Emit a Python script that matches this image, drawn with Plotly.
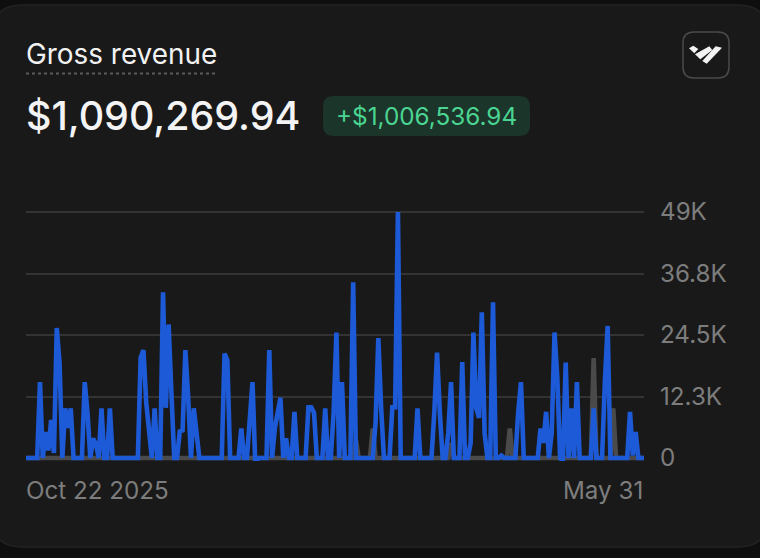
import pandas as pd
import plotly.graph_objects as go

start_date = "2025-10-22"
end_label = "May 31"
start_label = "Oct 22 2025"
title = "Gross revenue"
total = "$1,090,269.94"
delta = "+$1,006,536.94"
y_ticks = [0, 12250, 24500, 36750, 49000]
y_labels = ["0", "12.3K", "24.5K", "36.8K", "49K"]

current = [
    0, 0, 0, 0, 0, 15100, 0, 5200, 1500, 7600,
    1000, 25900, 18900, 0, 9900, 6000, 9900, 0, 0, 0,
    0, 15100, 9000, 0, 3900, 2800, 0, 9900, 0, 0,
    9900, 0, 0, 0, 0, 0, 0, 0, 0, 0,
    0, 20000, 21500, 11000, 5000, 0, 9900, 0, 0, 33000,
    10000, 26600, 13000, 0, 0, 5300, 5500, 21500, 12000, 0,
    9900, 4500, 0, 0, 0, 0, 0, 0, 0, 0,
    0, 20800, 19500, 0, 0, 0, 0, 5900, 0, 0,
    8000, 15100, -1400, 0, 0, 0, 0, 21500, 0, 6000,
    9600, 12000, 0, 3900, 0, 0, 9200, 0, 0, 0,
    0, 10100, 10100, 9000, 0, 0, 0, 9900, 0, 0,
    9000, 25000, 0, 15100, 0, 0, 0, 35000, 0, 0,
    0, 0, 0, 0, 0, 7000, 23900, 10000, 0, 0,
    0, 10100, 10100, 49000, 0, 0, 0, 0, 0, 0,
    9900, 0, 0, 0, 0, 0, 9000, 21000, 9000, 0,
    0, 5000, 15100, 0, 0, 0, 19100, 0, 0, 3000,
    25000, 10000, 8000, 29000, 5000, 0, 0, 31000, 0, 0,
    500, 0, 0, 0, 0, 0, 9000, 15100, 0, 0,
    0, 0, 0, 0, 5900, 3000, 9200, 0, 5000, 25000,
    16000, 0, -800, 19000, 0, 9900, 0, 15100, 0, 0,
    0, 0, 0, 9900, 0, 0, 0, 15000, 26300, 0,
    0, 0, 0, 0, 0, 0, 9200, 500, 5200, 0,
    0, 0,
]

previous = [
    0, 0, 0, 0, 0, 0, 0, 0, 0, 0,
    0, 0, 0, 0, 0, 0, 0, 0, 0, 0,
    0, 0, 0, 0, 0, 0, 0, 0, 0, 0,
    0, 0, 0, 0, 0, 0, 0, 0, 0, 0,
    0, 0, 0, 0, 0, 0, 0, 0, 0, 0,
    0, 0, 0, 0, 0, 0, 0, 0, 0, 0,
    0, 0, 0, 0, 0, 0, 0, 0, 0, 0,
    0, 0, 0, 0, 0, 0, 0, 0, 0, 0,
    0, 0, 0, 0, 0, 0, 0, 0, 0, 0,
    0, 0, 0, 0, 0, 0, 0, 0, 0, 0,
    0, 0, 0, 0, 0, 0, 0, 0, 0, 0,
    0, 0, 0, 0, 0, 0, 0, 0, 3500, 0,
    0, 0, 0, 0, 5900, 0, 0, 0, 0, 0,
    0, 0, 0, 0, 0, 0, 0, 0, 0, 0,
    0, 0, 0, 0, 0, 0, 0, 0, 0, 0,
    0, 0, 3000, 0, 0, 0, 0, 0, 0, 0,
    0, 0, 0, 0, 0, 0, 0, 0, 0, 0,
    0, 0, 0, 5900, 0, 0, 0, 0, 0, 0,
    0, 0, 0, 0, 0, 0, 0, 0, 0, 0,
    0, 0, 0, 0, 0, 0, 0, 0, 0, 0,
    0, 0, 0, 19900, 0, 0, 0, 0, 0, 0,
    9900, 0, 0, 0, 0, 0, 0, 0, 0, 0,
    0, 0,
]

dates = pd.date_range(start_date, periods=len(current), freq="D")

L, R, T, B = 26, 644, 209, 461
W, H = 760, 558
FONT = "Inter"
y_pad = 3 * 49000 / 246


def px(x):
    return (x - L) / (R - L)


def py(y):
    return (B - y) / (B - T)


def path(points):
    return "M " + " L ".join(f"{px(x):.5f},{py(y):.5f}" for x, y in points) + " Z"


def rrect(x0, y0, x1, y1, r):
    X = lambda v: f"{px(v):.5f}"
    Y = lambda v: f"{py(v):.5f}"
    return (
        f"M {X(x0+r)},{Y(y0)} L {X(x1-r)},{Y(y0)} Q {X(x1)},{Y(y0)} {X(x1)},{Y(y0+r)} "
        f"L {X(x1)},{Y(y1-r)} Q {X(x1)},{Y(y1)} {X(x1-r)},{Y(y1)} "
        f"L {X(x0+r)},{Y(y1)} Q {X(x0)},{Y(y1)} {X(x0)},{Y(y1-r)} "
        f"L {X(x0)},{Y(y0+r)} Q {X(x0)},{Y(y0)} {X(x0+r)},{Y(y0)} Z"
    )


def shape(d, fill=None, line=None, width=0):
    return dict(
        type="path", path=d, xref="paper", yref="paper", layer="below",
        fillcolor=fill or "rgba(0,0,0,0)", line=dict(color=line or "rgba(0,0,0,0)", width=width),
    )


def text(x, y, s, size, color, anchor="left", weight=400):
    return dict(
        x=px(x), y=py(y), xref="paper", yref="paper", text=s, showarrow=False,
        xanchor=anchor, yanchor="middle", align=anchor,
        font=dict(family=FONT, size=size, color=color, weight=weight),
    )


fig = go.Figure()
fig.add_trace(go.Scatter(x=dates, y=previous, mode="lines", cliponaxis=False,
                         line=dict(color="#4a4a4a", width=4.6), hoverinfo="skip", name="Previous"))
fig.add_trace(go.Scatter(x=dates, y=current, mode="lines", cliponaxis=False,
                         line=dict(color="#1d5ad8", width=4.6), name="Current"))

shapes = [
    shape(rrect(-8, 5, 768, 547, 30), fill="#191919", line="#232323", width=1.5),
    shape(rrect(323, 96, 530, 136, 11), fill="#1c352a"),
    shape(rrect(683, 32, 729, 78, 11), fill="#191919", line="#4a4a4a", width=1.5),
    shape(path([(689, 48.3), (693.3, 45.7), (698.3, 49), (694.3, 53.3)]), fill="#f2f2f2"),
    shape(path([(695, 54.3), (709.3, 46.3), (712.3, 50), (700.3, 59.3)]), fill="#f2f2f2"),
    shape(path([(702.3, 61), (715.7, 46.3), (722, 47.7), (706.7, 63.7)]), fill="#f2f2f2"),
    dict(type="line", xref="paper", yref="paper", layer="below",
         x0=px(26), x1=px(217), y0=py(73.5), y1=py(73.5),
         line=dict(color="#5a5a5a", width=2, dash="dot")),
]

annotations = [
    text(24, 54, title, 27.9, "#f2f2f2"),
    text(24, 116, total, 39.4, "#f4f4f4", weight=500),
    text(334, 116, delta, 24.3, "#4ad491"),
    dict(x=dates[0], y=0, xref="x", yref="y", text=start_label, showarrow=False, xanchor="left",
         yanchor="top", yshift=-16, xshift=-2, font=dict(family=FONT, size=24.2, color="#7d7d7d")),
    dict(x=dates[-1], y=0, xref="x", yref="y", text=end_label, showarrow=False, xanchor="right",
         yanchor="top", yshift=-16, xshift=1, font=dict(family=FONT, size=24.2, color="#7d7d7d")),
]

fig.update_layout(
    width=W, height=H, autosize=False,
    margin=dict(l=L, r=W - R, t=T, b=H - B, pad=0),
    paper_bgcolor="#0e0e0e", plot_bgcolor="rgba(0,0,0,0)",
    showlegend=False, shapes=shapes, annotations=annotations,
    font=dict(family=FONT),
    xaxis=dict(range=[dates[0], dates[-1]], showgrid=False, zeroline=False, showticklabels=False,
               ticks="", showline=False),
    yaxis=dict(side="right", range=[-y_pad, 49000 + y_pad], tickvals=y_ticks, ticktext=y_labels,
               showgrid=True, gridcolor="#333333", gridwidth=1.5, zeroline=False, showline=False,
               ticks="", ticklabelstandoff=15,
               tickfont=dict(family=FONT, size=24.2, color="#7d7d7d")),
)

fig.write_html(
    "out.html",
    config=dict(displayModeBar=False),
    post_script="document.body.style.margin='0';document.body.style.background='#0e0e0e';",
)
